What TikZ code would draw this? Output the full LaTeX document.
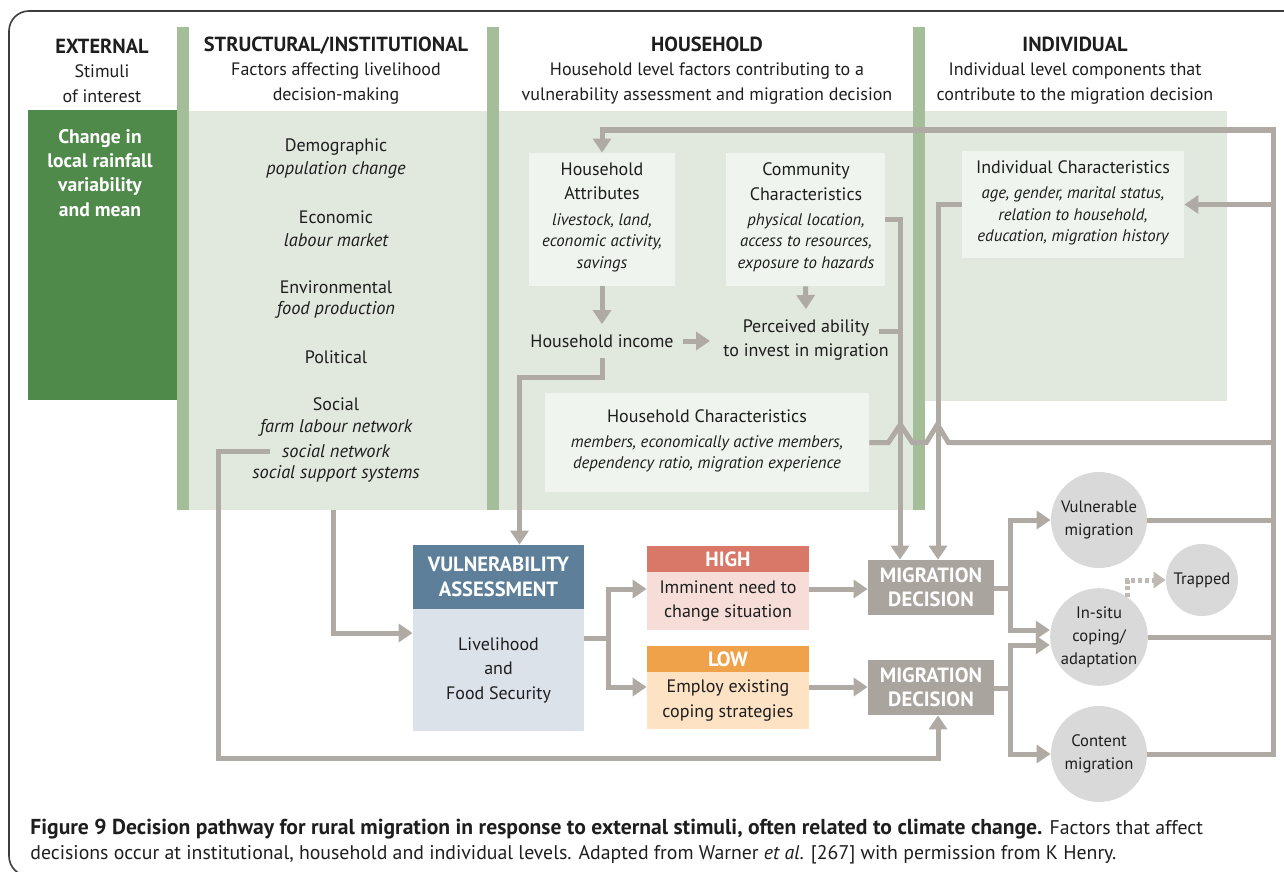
\documentclass[tikz,border=0pt]{standalone}
\usepackage{fontspec}
\setmainfont{PT Sans}
\usetikzlibrary{arrows.meta,calc,positioning}

\definecolor{ink}{HTML}{1E1E1E}
\definecolor{framec}{HTML}{3C3C3C}
\definecolor{bgl}{HTML}{E1E8DE}
\definecolor{barg}{HTML}{A3BE98}
\definecolor{darkg}{HTML}{4F8A4B}
\definecolor{boxl}{HTML}{EFF4EE}
\definecolor{flowc}{HTML}{B0AAA5}
\definecolor{dotc}{HTML}{BEB9B4}
\definecolor{vhc}{HTML}{5D7F99}
\definecolor{vbc}{HTML}{DCE2EA}
\definecolor{hihc}{HTML}{D97868}
\definecolor{hibc}{HTML}{F6DDD8}
\definecolor{lohc}{HTML}{F0A24A}
\definecolor{lobc}{HTML}{FDE2C3}
\definecolor{mdc}{HTML}{AAA49F}
\definecolor{circc}{HTML}{D9D9D9}

\newcommand{\fnorm}{\fontsize{9}{12.25}\selectfont}
\newcommand{\fhead}{\fontsize{10.2}{12.25}\selectfont\bfseries}
\newcommand{\fbold}{\fontsize{10.3}{12.25}\selectfont\bfseries}
\newcommand{\fext}{\fontsize{9.8}{12.1}\selectfont\bfseries}
\newcommand{\fsub}{\fontsize{9.2}{11.5}\selectfont\itshape}
\newcommand{\fdsc}{\fontsize{8.4}{10.75}\selectfont\itshape}
\newcommand{\fcirc}{\fontsize{8.3}{11.5}\selectfont}
\newcommand{\fcap}{\fontsize{9.9}{12}\selectfont}
\newcommand{\fcapb}{\fontsize{10.8}{12}\selectfont\bfseries}

\tikzset{
  txt/.style={align=center, inner sep=0pt, font=\fnorm, text=ink},
  sub/.style={txt, font=\fsub},
  dsc/.style={txt, font=\fdsc},
  bg/.style={fill=bgl, inner sep=0pt},
  ibox/.style={fill=boxl, inner sep=0pt},
  hd/.style={inner sep=0pt, align=center, text=white, font=\fbold},
  bd/.style={inner sep=0pt, align=center, text=ink, font=\fnorm},
  decbox/.style={hd, fill=mdc, minimum width=63pt, minimum height=27.5pt},
  outc/.style={circle, fill=circc, inner sep=0pt, minimum size=48pt, align=center, text=ink, font=\fcirc},
  flow/.style={draw=flowc, line width=2.5pt},
  arr/.style={flow, -{Triangle[length=7pt,width=9pt]}},
  dotarr/.style={draw=dotc, line width=2.5pt, dash pattern=on 2pt off 1.4pt, -{Triangle[length=6pt,width=8pt]}}
}

\begin{document}
\begin{tikzpicture}[x=0.5pt,y=-0.5pt]
\useasboundingbox (0,0) rectangle (1284,872);
% frame
\draw[framec, line width=0.8pt, rounded corners=10pt] (1300,11) -- (9,11) -- (9,876) -- (60,876);

% column backgrounds
\node[fill=darkg, inner sep=0pt, minimum width=74.5pt, minimum height=145pt] (extbox) at (102.5,255) {};
\node[bg, minimum width=149pt, minimum height=199.5pt] (strbg) at (338,310.5) {};
\node[bg, minimum width=207pt, minimum height=199.5pt] (hhbg) at (706,310.5) {};
\node[bg, minimum width=151pt, minimum height=145pt] (indbg) at (1076,256) {};
\foreach \x in {183,493,919}
  \fill[barg] (\x-6,27) rectangle (\x+6,510);

% headings
\node[txt] (exth) at (102,70.5) {{\fhead EXTERNAL}\\Stimuli\\of interest};
\node[txt] (strh) at (336,70.5) {{\fhead STRUCTURAL/INSTITUTIONAL}\\Factors affecting livelihood\\decision-making};
\node[txt] (hhh) at (707,70.5) {{\fhead HOUSEHOLD}\\Household level factors contributing to a\\vulnerability assessment and migration decision};
\node[txt] (indh) at (1075,70.5) {{\fhead INDIVIDUAL}\\Individual level components that\\contribute to the migration decision};

% external stimuli
\node[txt, text=white, font=\fext] (extt) at (100,173) {Change in\\local rainfall\\variability\\and mean};

% structural factors
\foreach \t/\y [count=\i] in {Demographic/147,Economic/217,Environmental/287,Political/357,Social/404}
  \node[txt] (fac\i) at (336,\y) {\t};
\foreach \t/\y [count=\i] in {population change/170,labour market/240,food production/310,farm labour network/428,social network/451,social support systems/474}
  \node[sub] (sub\i) at (336,\y) {\t};

% household level
\node[ibox, minimum width=73pt, minimum height=66.5pt] (hattr) at (602,219.5) {};
\node[txt] (hattrt) at (602,181.5) {Household\\Attributes};
\node[dsc] (hattrd) at (602,242.5) {livestock, land,\\economic activity,\\savings};
\node[ibox, minimum width=79.5pt, minimum height=66.5pt] (cchar) at (805.5,219.5) {};
\node[txt] (cchart) at (806,181.5) {Community\\Characteristics};
\node[dsc] (cchard) at (806,242.5) {physical location,\\access to resources,\\exposure to hazards};
\node[txt, inner xsep=4.5pt, inner ysep=5pt] (hinc) at (602,341) {Household income};
\node[txt, inner xsep=6.5pt, inner ysep=5pt] (perc) at (806,340) {Perceived ability\\to invest in migration};
\node[ibox, minimum width=162pt, minimum height=49.5pt] (hhc) at (707,442.5) {};
\node[txt] (hhct) at (707,416) {Household Characteristics};
\node[dsc] (hhcd) at (707,454) {members, economically active members,\\dependency ratio, migration experience};

% individual level
\node[ibox, minimum width=111pt, minimum height=53.5pt] (ichar) at (1073,204.5) {};
\node[txt] (ichart) at (1073,167) {Individual Characteristics};
\node[dsc] (ichard) at (1073,216) {age, gender, marital status,\\relation to household,\\education, migration history};

% assessment and decisions
\node[hd, fill=vhc, minimum width=85.5pt, minimum height=32pt] (vhead) at (498.5,577) {VULNERABILITY\\ASSESSMENT};
\node[bd, fill=vbc, minimum width=85.5pt, minimum height=61pt] (vbody) at (498.5,670) {Livelihood\\and\\Food Security};
\node[hd, fill=hihc, minimum width=81pt, minimum height=13pt] (hihead) at (728,559) {HIGH};
\node[bd, fill=hibc, minimum width=81pt, minimum height=29pt] (hibody) at (728,601) {Imminent need to\\change situation};
\node[hd, fill=lohc, minimum width=81pt, minimum height=13pt] (lohead) at (728,659) {LOW};
\node[bd, fill=lobc, minimum width=81pt, minimum height=28.5pt] (lobody) at (728,700.5) {Employ existing\\coping strategies};
\node[decbox] (md1) at (931,587.5) {MIGRATION\\DECISION};
\node[decbox] (md2) at (931,687.5) {MIGRATION\\DECISION};

% outcomes
\node[outc] (vmig) at (1099,520) {Vulnerable\\migration};
\node[outc] (smig) at (1099,637) {In-situ\\coping/\\adaptation};
\node[outc] (cmig) at (1099,754) {Content\\migration};
\node[outc, minimum size=36pt] (trap) at (1202,580) {Trapped};

% routing points
\coordinate (rt) at (1273,130);
\coordinate (pj) at (900,331);
\coordinate (vb) at (608,638);
\coordinate (hirow) at (0,589);
\coordinate (lorow) at (0,687);
\coordinate (b1) at (1010,588);
\coordinate (b2) at (1010,688);
\coordinate (sbot) at (218,758);

% feedback loop
\draw[arr] (cmig.east) -| (rt) -| (hattr.north);
\draw[flow] (vmig.east) -- (vmig.east -| rt);
\draw[flow] (smig.east) -- (smig.east -| rt);
\draw[arr] (ichar.east -| rt) -- (ichar.east);
\draw[flow] (hhc.east) -- ++(19,0) -- ++(12,-18) -- ++(12,18) -- ++(14,0) -- ++(11,-18) -- ++(11,18) -- (hhc.east -| rt);

% into the first decision
\draw[arr] (ichar.west) -| ($(md1.north)+(7,0)$);
\draw[arr] (cchar.east) -| ($(md1.north)+(-31,0)$);
\draw[flow] (pj) -- ++(-21,0);

% household flows
\draw[arr] (hattr.south) -- (hinc.north);
\draw[arr] (cchar.south) -- (perc.north);
\draw[arr] (hinc.east) -- (hinc.east -| perc.west);
\draw[arr] (hinc.south) -- ++(0,20) -| ($(vhead.north)+(21,0)$);
\draw[arr] ($(strbg.south)+(-5,0)$) |- ($(vbody.west)+(0,-37)$);
\draw[arr] ($(sub5.west)+(-12,0)$) -| (sbot) -| ($(md2.south)+(7,0)$);

% assessment to decisions
\draw[flow] (vbody.east |- vb) -- (vb);
\draw[arr] (vb) |- (hibody.west |- hirow);
\draw[arr] (vb) |- (lobody.west |- lorow);
\draw[arr] (hibody.east |- hirow) -- (md1.west |- hirow);
\draw[arr] (lobody.east |- lorow) -- (md2.west |- lorow);

% decisions to outcomes
\draw[flow] (md1.east |- b1) -- (b1);
\draw[arr] (b1) |- (vmig.west);
\draw[arr] (b1) |- ($(smig.west)+(0,-7)$);
\draw[flow] (md2.east |- b2) -- (b2);
\draw[arr] (b2) |- ($(smig.west)+(0,8)$);
\draw[arr] (b2) |- (cmig.west);
\draw[dotarr] (smig.54) |- (trap.west);

% caption
\node[anchor=base west, inner sep=0pt, font=\fcap, text=ink] (cap1) at (30,834) {{\fcapb Figure 9 Decision pathway for rural migration in response to external stimuli, often related to climate change.} Factors that affect};
\node[anchor=base west, inner sep=0pt, font=\fcap, text=ink] (cap2) at (30,859) {decisions occur at institutional, household and individual levels. Adapted from Warner \textit{et al}. [267] with permission from K Henry.};
\end{tikzpicture}
\end{document}
